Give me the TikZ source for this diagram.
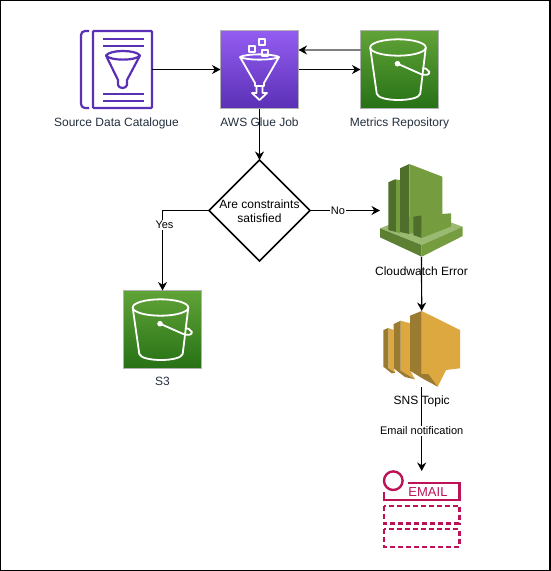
\documentclass[tikz,border=0pt]{standalone}
\usepackage{fontspec}
\setmainfont{Liberation Sans}
\usetikzlibrary{arrows.meta,shapes.geometric,positioning}
\definecolor{glueTop}{HTML}{945DF2}
\definecolor{glueBot}{HTML}{5A30B5}
\definecolor{gluePurple}{HTML}{5A30B5}
\definecolor{bucketTop}{HTML}{60A337}
\definecolor{bucketBot}{HTML}{277116}
\definecolor{cwMid}{HTML}{759C3E}
\definecolor{cwDark}{HTML}{4F6E2B}
\definecolor{cwLight}{HTML}{9AB971}
\definecolor{cwBase}{HTML}{5C7F32}
\definecolor{snsMid}{HTML}{DDA83F}
\definecolor{snsDark}{HTML}{9B7A32}
\definecolor{emailRed}{HTML}{BC1356}
\definecolor{labelInk}{HTML}{232F3E}
\tikzset{
    iconlabel/.style={font=\fontsize{12}{14}\selectfont, text=labelInk},
    plainlabel/.style={font=\fontsize{12}{14}\selectfont},
    flowlabel/.style={font=\fontsize{11}{13}\selectfont, fill=white, inner sep=1pt},
    flow/.style={-{Stealth[length=8.5pt,width=9pt,color=black]},line width=1.2pt},
    iconbox/.style={minimum size=78pt, inner sep=0pt, outer sep=0pt, draw=white!70!black, line width=.5pt},
    hollow/.style={inner sep=0pt, outer sep=0pt},
}
% white bucket, drawn about the centre of its green square
\newcommand{\bucketicon}[1]{
    \begin{scope}[shift={(#1)}, white, line width=1.8pt]
        \draw (-1.5,-22) ellipse (27.8 and 8.2);
        \draw (-29.3,-22) -- (-22.7,24.5) .. controls (-20,32.5) and (18,32.5) .. (20.7,24.5) -- (26.3,-22);
        \fill (-2,-5.8) circle (2.8);
        \draw (-2,-5.8) -- (19.7,3.8) .. controls (26,7) and (31,5) .. (29.7,2.2) .. controls (28.5,-0.5) and (25,-1.5) .. (23,-1.5);
    \end{scope}
}
\begin{document}
\begin{tikzpicture}[x=1pt,y=-1pt]
    \useasboundingbox (0,0) rectangle (550,571);
    \draw[line width=2.4pt] (0,0) rectangle (550,571);
    % Catalogue icon
    \node (catalogue) [hollow, minimum width=71pt, minimum height=78pt] at (116.5,69.5) {};
    \draw[gluePurple, line width=2.2pt, rounded corners=1pt] (93,31) rectangle (152,108);
    \draw[gluePurple, line width=2.2pt, rounded corners=4pt] (89,31) -- (81,31) -- (81,108) -- (89,108);
    \draw[gluePurple, line width=2.2pt] (103,39) -- (144,39) (103,46) -- (144,46) (103,94) -- (144,94) (103,101) -- (144,101);
    \draw[gluePurple, line width=2.2pt, line join=round] (106,55.5) .. controls (110,49.5) and (136,49.5) .. (140,55.5) .. controls (136,61) and (110,61) .. (106,55.5) -- (118,80) -- (118,85) .. controls (119,89) and (126,89) .. (127,85) -- (127,80) -- (140,55.5);
    \node (catalogueText) [iconlabel, below=5.5pt of catalogue] {Source Data Catalogue};
    % Glue job icon
    \node (glue) [iconbox, top color=glueTop, bottom color=glueBot] at (259.5,69.5) {};
    \begin{scope}[white, line width=1.8pt, line join=round]
        \draw (240,57) .. controls (246,53.5) and (273,53.5) .. (279,57) .. controls (273,60.5) and (246,60.5) .. (240,57) -- (255,83) -- (255,86) -- (264,86) -- (264,83) -- (279,57);
        \draw (249,46) rectangle (255,52) (259,39) rectangle (265,45) (262,50) rectangle (268,56);
        \draw (256.5,87) -- (256.5,93) -- (252,93) -- (259.5,100) -- (267,93) -- (262.5,93) -- (262.5,87);
    \end{scope}
    \node (glueText) [iconlabel, below=5.5pt of glue] {AWS Glue Job};
    % Metrics bucket
    \node (metrics) [iconbox, top color=bucketTop, bottom color=bucketBot] at (399.5,69.5) {};
    \bucketicon{399.5,69.5}
    \node (metricsText) [iconlabel, below=5.5pt of metrics] {Metrics Repository};
    % Decision
    \node (check) [diamond, draw, line width=1.7pt, minimum width=101pt, minimum height=101pt, inner sep=0pt, outer sep=0pt, aspect=1] at (259.5,210.5) {};
    \node (checkText) [plainlabel, align=center] at (259.5,211) {Are constraints\\satisfied};
    % S3 bucket
    \node (store) [iconbox, top color=bucketTop, bottom color=bucketBot] at (162.5,329.5) {};
    \bucketicon{162,329.5}
    \node (storeText) [iconlabel, below=5.5pt of store] {S3};
    % Cloudwatch icon
    \node (watch) [hollow, minimum width=83pt, minimum height=93pt] at (421.5,210.5) {};
    \fill[cwLight] (380,228.3) -- (421.7,212) -- (462.7,226.7) -- (421.7,245) -- cycle;
    \fill[cwBase] (380,228.3) -- (421.7,245) -- (421.7,256.7) -- (380,237.3) -- cycle;
    \fill[cwMid] (462.7,226.7) -- (421.7,245) -- (421.7,256.7) -- (462.7,236) -- cycle;
    \fill[cwDark] (388.3,182.3) -- (395,179.3) -- (396,179.5) -- (396,232) -- (388.3,230) -- cycle;
    \fill[cwMid] (396,179.5) -- (400,180) -- (400,233) -- (396,232) -- cycle;
    \fill[cwDark] (400,168.3) -- (409.3,164) -- (409.3,234) -- (400,232) -- cycle;
    \fill[cwMid] (409.3,164) -- (442.3,176.7) -- (442.3,222) -- (409.3,234) -- cycle;
    \fill[cwDark] (413.3,216.7) -- (421.7,215.5) -- (421.7,238) -- (413.3,235) -- cycle;
    \fill[cwMid] (421.7,215.5) -- (451,213.3) -- (451,226.5) -- (421.7,238) -- cycle;
    \node (watchText) [plainlabel] at (421.5,271) {Cloudwatch Error};
    % SNS icon
    \node (topic) [hollow, minimum width=77pt, minimum height=76pt] at (421.7,349) {};
    \fill[snsMid] (388.3,328) -- (393.7,330) -- (393.7,368.3) -- (395.3,372.7) -- (388.3,368.3) -- cycle;
    \fill[snsDark] (383.3,330) -- (388.3,328) -- (388.3,368.3) -- (395.3,372.7) -- (391.7,373.3) -- (383.3,366.7) -- cycle;
    \fill[snsMid] (400.7,320.7) -- (410,323.3) -- (410,370) -- (415,379.3) -- (400.7,370.7) -- cycle;
    \fill[snsDark] (393.7,324) -- (400.7,320.7) -- (400.7,370.7) -- (415,379.3) -- (405,377) -- (393.7,368.3) -- cycle;
    \fill[snsMid] (421.7,311) -- (460,330) -- (460,368.3) -- (446,370) -- (437.7,386.7) -- (421.7,374) -- cycle;
    \fill[snsDark] (410,315.7) -- (421.7,311) -- (421.7,374) -- (428.3,374) -- (437.7,386.7) -- (421.7,378) -- (410,370.7) -- cycle;
    \node (topicText) [plainlabel] at (421.7,401.5) {SNS Topic};
    % Email icon
    \node (mail) [hollow, minimum width=75pt, minimum height=76pt] at (421.7,509) {};
    \begin{scope}[emailRed, line width=2.4pt]
        \draw (393.3,480.7) circle (9.3);
        \draw (408,482.7) -- (459.3,482.7) -- (459.3,500) -- (384,500) -- (384,492.3);
        \node (mailText) [font=\fontsize{13}{14}\selectfont, text=emailRed] at (428,492) {EMAIL};
        \draw[dash pattern=on 5pt off 3pt] (384,505.7) rectangle (459.3,523.3) (384,529) rectangle (459.3,546.7);
    \end{scope}
    % Connectors
    \draw[flow] (catalogue.east) -- (glue.west);
    \draw[flow, draw=black!50, line width=1.8pt] ([yshift=19.5pt]metrics.west) -- ([yshift=19.5pt]glue.east);
    \draw[flow] (glue.east) -- (metrics.west);
    \draw[flow] (glue.south) -- (check.north);
    \draw[flow] (check.west) -| node[flowlabel, pos=.59, xshift=2pt] {Yes} (store.north);
    \draw[flow] (check.east) -- node[flowlabel, pos=.4] {No} (watch.west);
    \draw[flow] (watch.south) -- (topic.north);
    \draw[flow] (topic.south) -- node[flowlabel, pos=.52] {Email notification} (mail.north);
\end{tikzpicture}
\end{document}
